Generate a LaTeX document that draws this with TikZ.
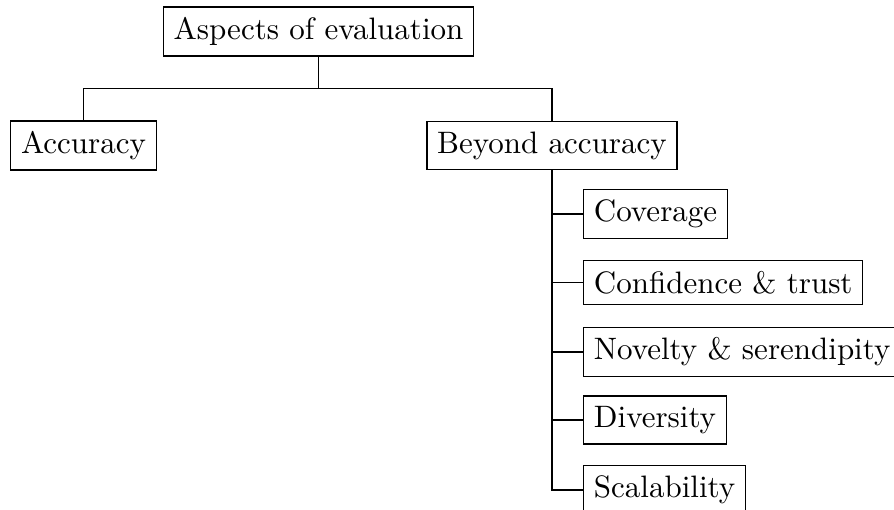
\documentclass[tikz,border=0pt]{standalone}
\usetikzlibrary{calc}
\begin{document}
\begin{tikzpicture}[x=0.3226pt,y=-0.3226pt,
  box/.style={draw,line width=0.4pt,inner sep=0.3333em},
  conn/.style={line width=0.4pt}]
\useasboundingbox (0,0) rectangle (894,510);
\node[box] (root) at (318.5,31.5) {Aspects of evaluation};
\node[box] (acc) at (83.5,145.5) {Accuracy};
\node[box] (beyond) at (552,145.5) {Beyond accuracy};
\node[box,anchor=west] (c1) at (583,214) {Coverage};
\node[box,anchor=west] (c2) at (583,282.5) {Confidence \& trust};
\node[box,anchor=west] (c3) at (583,352) {Novelty \& serendipity};
\node[box,anchor=west] (c4) at (583,420) {Diversity};
\node[box,anchor=west] (c5) at (583,490) {Scalability};
\coordinate (j) at (318.5,88.5);
\draw[conn] (root.south) -- (j) -| (acc.north);
\draw[conn] (j) -| (beyond.north);
\foreach \c in {c1,c2,c3,c4,c5}
  \draw[conn] (beyond.south) |- (\c.west);
\end{tikzpicture}
\end{document}
